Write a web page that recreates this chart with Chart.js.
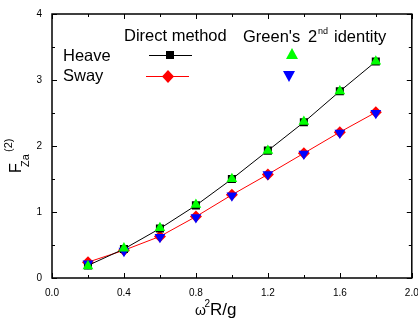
<!DOCTYPE html>
<html>
<head>
<meta charset="utf-8">
<script src="https://cdn.jsdelivr.net/npm/chart.js@4"></script>
<style>
  html, body { margin: 0; padding: 0; background: #fff; }
  #wrap { width: 418px; height: 324px; }
</style>
</head>
<body>
<div id="wrap"><canvas id="chart" width="418" height="324"></canvas></div>
<script>
// ===== Data =====
const xValues = [0.2, 0.4, 0.6, 0.8, 1.0, 1.2, 1.4, 1.6, 1.8];
const heaveDirect = [0.19, 0.44, 0.75, 1.10, 1.50, 1.93, 2.36, 2.83, 3.28];
const swayDirect = [0.24, 0.42, 0.63, 0.93, 1.26, 1.57, 1.89, 2.21, 2.51];
const heaveGreen = [0.18, 0.45, 0.76, 1.11, 1.50, 1.93, 2.37, 2.83, 3.28];
const swayGreen = [0.22, 0.41, 0.62, 0.92, 1.25, 1.57, 1.88, 2.20, 2.50];
const xTicks = [0.0, 0.4, 0.8, 1.2, 1.6, 2.0];
const yTicks = [0, 1, 2, 3, 4];

const FONT = '"Liberation Sans", Arial, sans-serif';

function pts(ys) {
    return xValues.map((x, i) => ({ x: x, y: ys[i] }));
}

// ===== Frame, inward ticks, legend and axis titles =====
const decor = {
    id: 'decor',
    afterDraw(chart) {
        const ctx = chart.ctx;
        const a = chart.chartArea;
        const xs = chart.scales.x, ys = chart.scales.y;
        ctx.save();
        ctx.strokeStyle = '#000';
        ctx.lineWidth = 1.5;
        ctx.strokeRect(a.left, a.top, a.right - a.left, a.bottom - a.top);

        ctx.lineWidth = 1;
        ctx.beginPath();
        for (let v = 0; v <= 2.0001; v += 0.2) {
            const px = Math.round(xs.getPixelForValue(v)) + 0.5;
            const major = Math.abs(v / 0.4 - Math.round(v / 0.4)) < 1e-6;
            const len = major ? 5 : 3;
            ctx.moveTo(px, a.bottom); ctx.lineTo(px, a.bottom - len);
            ctx.moveTo(px, a.top); ctx.lineTo(px, a.top + len);
        }
        for (let v = 0; v <= 4.0001; v += 0.5) {
            const py = Math.round(ys.getPixelForValue(v)) + 0.5;
            const major = Math.abs(v - Math.round(v)) < 1e-6;
            const len = major ? 5 : 3;
            ctx.moveTo(a.left, py); ctx.lineTo(a.left + len, py);
            ctx.moveTo(a.right, py); ctx.lineTo(a.right - len, py);
        }
        ctx.stroke();

        // legend
        ctx.fillStyle = '#000';
        ctx.textBaseline = 'alphabetic';
        ctx.textAlign = 'left';
        ctx.font = '16.5px ' + FONT;
        ctx.fillText('Direct method', 124, 41);
        ctx.fillText("Green's", 243, 42);
        ctx.fillText('2', 308, 42);
        ctx.font = '9px ' + FONT;
        ctx.fillText('nd', 318, 34);
        ctx.font = '16.5px ' + FONT;
        ctx.fillText('identity', 334, 42);
        ctx.fillText('Heave', 63, 61);
        ctx.fillText('Sway', 63, 81);

        ctx.lineWidth = 1;
        ctx.strokeStyle = '#000';
        ctx.beginPath(); ctx.moveTo(149, 55.5); ctx.lineTo(192, 55.5); ctx.stroke();
        ctx.fillRect(166, 51, 8, 8);
        ctx.strokeStyle = '#ff0000';
        ctx.beginPath(); ctx.moveTo(146, 76.5); ctx.lineTo(189, 76.5); ctx.stroke();
        ctx.fillStyle = '#ff0000';
        ctx.beginPath();
        ctx.moveTo(168, 70); ctx.lineTo(174, 76.5); ctx.lineTo(168, 83); ctx.lineTo(162, 76.5);
        ctx.closePath(); ctx.fill();
        ctx.fillStyle = '#00ff00';
        ctx.beginPath();
        ctx.moveTo(292, 48); ctx.lineTo(298, 59); ctx.lineTo(286, 59);
        ctx.closePath(); ctx.fill();
        ctx.fillStyle = '#0000ff';
        ctx.beginPath();
        ctx.moveTo(283, 71); ctx.lineTo(295, 71); ctx.lineTo(289, 82);
        ctx.closePath(); ctx.fill();

        // x title
        ctx.fillStyle = '#000';
        ctx.font = '14px ' + FONT;
        ctx.fillText('\u03c9', 195, 315);
        ctx.font = '10px ' + FONT;
        ctx.fillText('2', 204.5, 307);
        ctx.font = '17px ' + FONT;
        ctx.fillText('R/g', 210, 315);

        // y title (rotated)
        ctx.save();
        ctx.translate(21, 173);
        ctx.rotate(-Math.PI / 2);
        ctx.font = '16px ' + FONT;
        ctx.fillText('F', 0, 0);
        ctx.font = '11px ' + FONT;
        ctx.fillText('Za', 6, 8);
        ctx.fillText('(2)', 21, -9);
        ctx.restore();
        ctx.restore();
    }
};

const tickFont = { family: FONT, size: 10 };

new Chart(document.getElementById('chart'), {
    type: 'scatter',
    data: {
        datasets: [
            {
                label: "Heave (Green's 2nd identity)",
                data: pts(heaveGreen),
                pointStyle: 'triangle',
                pointRadius: 6.2,
                pointHoverRadius: 6.2,
                backgroundColor: '#00ff00',
                borderColor: '#00ff00',
                borderWidth: 0,
                showLine: false
            },
            {
                label: "Sway (Green's 2nd identity)",
                data: pts(swayGreen),
                pointStyle: 'triangle',
                rotation: 180,
                pointRadius: 6.2,
                pointHoverRadius: 6.2,
                backgroundColor: '#0000ff',
                borderColor: '#0000ff',
                borderWidth: 0,
                showLine: false
            },
            {
                label: 'Heave (Direct method)',
                data: pts(heaveDirect),
                pointStyle: 'rect',
                pointRadius: 5.7,
                pointHoverRadius: 5.7,
                pointBackgroundColor: '#000',
                pointBorderWidth: 0,
                borderColor: '#000',
                borderWidth: 1,
                showLine: true
            },
            {
                label: 'Sway (Direct method)',
                data: pts(swayDirect),
                pointStyle: 'rectRot',
                pointRadius: 6,
                pointHoverRadius: 6,
                pointBackgroundColor: '#ff0000',
                pointBorderWidth: 0,
                borderColor: '#ff0000',
                borderWidth: 1,
                showLine: true
            }
        ]
    },
    options: {
        responsive: false,
        animation: false,
        events: [],
        layout: { padding: { left: 0, right: 6, top: 14, bottom: 0 } },
        plugins: { legend: { display: false }, tooltip: { enabled: false } },
        scales: {
            x: {
                type: 'linear',
                min: 0, max: 2,
                afterBuildTicks: s => { s.ticks = xTicks.map(v => ({ value: v })); },
                afterFit: s => { s.height = 46; s.paddingLeft = 0; s.paddingRight = 0; },
                grid: { display: false, drawTicks: false },
                border: { display: false },
                ticks: {
                    font: tickFont, color: '#000', padding: 9, maxRotation: 0,
                    callback: v => Number(v).toFixed(1)
                }
            },
            y: {
                type: 'linear',
                min: 0, max: 4,
                afterBuildTicks: s => { s.ticks = yTicks.map(v => ({ value: v })); },
                afterFit: s => { s.width = 52; s.paddingTop = 0; s.paddingBottom = 0; },
                grid: { display: false, drawTicks: false },
                border: { display: false },
                ticks: {
                    font: tickFont, color: '#000', padding: 10,
                    callback: v => String(v)
                }
            }
        }
    },
    plugins: [decor]
});
</script>
</body>
</html>
